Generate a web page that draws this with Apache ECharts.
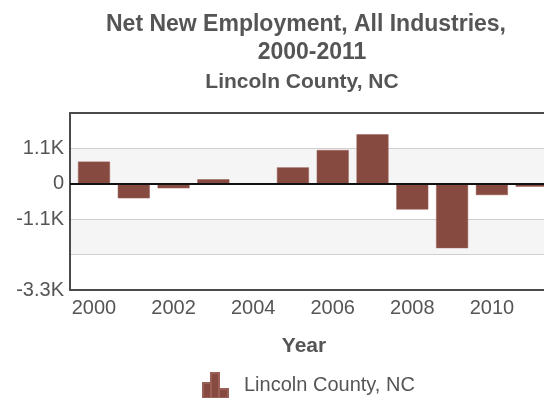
<!DOCTYPE html>
<html>
<head>
<meta charset="utf-8">
<script src="https://cdn.jsdelivr.net/npm/echarts@6/dist/echarts.min.js"></script>
<style>html,body{margin:0;padding:0;background:#fff}#c{width:544px;height:398px}</style>
</head>
<body>
<div id="c"></div>
<script>
var years = [2000, 2001, 2002, 2003, 2004, 2005, 2006, 2007, 2008, 2009, 2010, 2011];
var netNew = [690, -450, -140, 140, 10, 510, 1050, 1540, -800, -2000, -350, -90];
var xTickLabels = [2000, 2002, 2004, 2006, 2008, 2010];
var yTickLabels = {'-3300': '-3.3K', '-1100': '-1.1K', '0': '0', '1100': '1.1K'};
var seriesName = 'Lincoln County, NC';

var font = '"Liberation Sans", Arial, sans-serif';
var textColor = '#555';
var barColor = '#874a40';
var frameColor = '#4a4a4a';

var chart = echarts.init(document.getElementById('c'), null, {renderer: 'canvas'});
chart.setOption({
  animation: false,
  backgroundColor: '#fff',
  title: [
    {text: 'Net New Employment, All Industries,', left: 301, top: 8, textAlign: 'center',
     textStyle: {fontFamily: font, fontSize: 23, fontWeight: 'bold', color: textColor}},
    {text: '2000-2011', left: 307, top: 36, textAlign: 'center',
     textStyle: {fontFamily: font, fontSize: 23, fontWeight: 'bold', color: textColor}},
    {text: 'Lincoln County, NC', left: 297, top: 67, textAlign: 'center',
     textStyle: {fontFamily: font, fontSize: 21, fontWeight: 'bold', color: textColor}}
  ],
  legend: {
    data: [{name: seriesName, icon: 'path://M0,10H8V25H0Z M8,0H16V25H8Z M16,16H25V25H16Z'}],
    left: 202, top: 372, padding: 0, itemWidth: 25, itemHeight: 25,
    textStyle: {fontFamily: font, fontSize: 20, color: textColor, padding: [0, 0, 0, 11]}
  },
  grid: {left: 70, right: 0, top: 113, bottom: 108},
  xAxis: [{
    type: 'value', min: 1999.397, max: 2011.31,
    name: 'Year', nameLocation: 'middle', nameGap: 46,
    nameTextStyle: {fontFamily: font, fontSize: 21, fontWeight: 'bold', color: textColor, padding: [0, 0, 0, -6]},
    axisLine: {show: true, onZero: false, lineStyle: {color: frameColor, width: 2}},
    axisTick: {show: false},
    splitLine: {show: false},
    axisLabel: {customValues: xTickLabels, fontFamily: font, fontSize: 20, color: textColor, margin: 8,
      formatter: function (v) { return String(Math.round(v)); }}
  }, {
    type: 'value', position: 'top', min: 1999.397, max: 2011.31,
    axisLine: {show: true, onZero: false, lineStyle: {color: frameColor, width: 2}},
    axisTick: {show: false}, axisLabel: {show: false}, splitLine: {show: false}
  }],
  yAxis: {
    type: 'value', min: -3300, max: 2200, interval: 1100,
    axisLine: {show: true, onZero: false, lineStyle: {color: frameColor, width: 2}},
    axisTick: {show: false},
    splitLine: {show: true, lineStyle: {color: '#cfcfcf', width: 1}},
    splitArea: {show: true, areaStyle: {color: ['#ffffff', '#f5f5f5']}},
    axisLabel: {
      fontFamily: font, fontSize: 20, color: textColor, margin: 6,
      formatter: function (v) { var k = String(Math.round(v)); return yTickLabels.hasOwnProperty(k) ? yTickLabels[k] : ''; }
    }
  },
  series: [{
    name: seriesName, type: 'bar', barWidth: 32,
    data: years.map(function (y, i) { return [y, netNew[i]]; }),
    itemStyle: {color: barColor, borderColor: '#9a6058', borderWidth: 0.5},
    markLine: {silent: true, symbol: 'none', label: {show: false},
      lineStyle: {color: '#111', width: 2, type: 'solid'}, data: [{yAxis: 0}]}
  }]
});
</script>
</body>
</html>
